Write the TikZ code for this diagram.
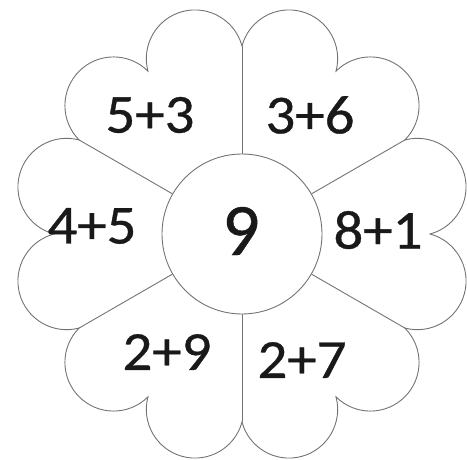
\documentclass[tikz,border=0pt]{standalone}
\usepackage{fontspec}
\setmainfont{Carlito}
\newfontfamily\digitfont[FakeBold=0.6]{Carlito}
\usetikzlibrary{calc}
\begin{document}
\begin{tikzpicture}[x=1pt,y=1pt,
  outline/.style={draw=black!55,line width=0.9pt},
  lbl/.style={inner sep=0pt,text=black!90,xscale=1.07,font=\digitfont\fontsize{55}{60}\selectfont},
  big/.style={inner sep=0pt,text=black!90,font=\digitfont\fontsize{74}{80}\selectfont}]
\useasboundingbox (0,0) rectangle (467,459);
\coordinate (O) at (242,225);
% outer scalloped outline
\draw[outline] (O) ++(0:188)
  \foreach \k in {0,...,11}{ arc[start angle={30*\k-75}, end angle={30*\k+105}, radius=48.66] } -- cycle;
% centre circle
\node[outline,circle,minimum size=160pt,inner sep=0pt] (c) at (O) {};
% radial dividers
\foreach \a in {30,90,150,210,270,330}{
  \coordinate (e\a) at ($(O)+(\a:188)$);
}
\foreach \a in {30,90,150,210,270,330}{
  \draw[outline] (c.\a) -- (e\a);
}
\node[big] (n9) at (241,228) {9};
\node[lbl] (p1) at (150,344) {5+3};
\node[lbl] (p2) at (310,344) {3+6};
\node[lbl] (p3) at (92,233) {4+5};
\node[lbl] (p4) at (378,229) {8+1};
\node[lbl] (p5) at (167,107) {2+9};
\node[lbl] (p6) at (302,99) {2+7};
\end{tikzpicture}
\end{document}
